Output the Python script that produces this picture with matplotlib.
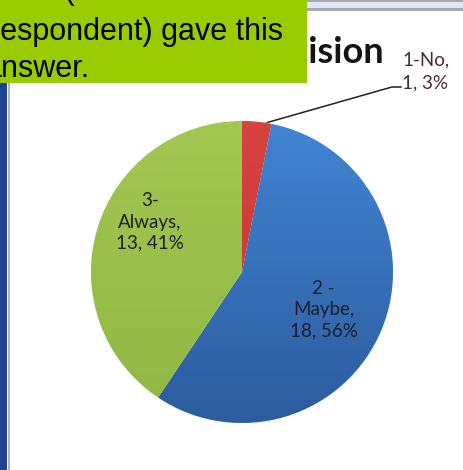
import numpy as np
import matplotlib.pyplot as plt
import matplotlib.colors as mcolors

# survey answers
answers = ['1-No', '2 -\nMaybe', '3-\nAlways']
counts = [1, 18, 13]
colors_top = ['#d8433f', '#4185d3', '#a2c851']
colors_bottom = ['#c23634', '#2d5c9f', '#90b644']
callout_lines = ['once (or one', 'respondent) gave this', 'answer.']
title = 'Decision'

W, H = 464, 470
cx, cy, r = 242, 272, 151

# label anchors in pie units (x, y), one per answer
label_pos = [(1.06, 1.33), (0.54, -0.25), (-0.61, 0.33)]
# callout text placement in pixels (left, baseline)
callout_xy = [(-10, -1), (-10, 40), (-15, 77)]


def make_gradient(c_top, c_bot, n=256):
    a = np.array(mcolors.to_rgb(c_top))
    b = np.array(mcolors.to_rgb(c_bot))
    t = np.linspace(0, 1, n)[:, None]
    col = a * (1 - t) + b * t
    return np.repeat(col[:, None, :], 2, axis=1)


fig = plt.figure(figsize=(W / 100, H / 100), dpi=100)
fig.patch.set_facecolor('white')

# page frame in pixel coordinates
bg = fig.add_axes([0, 0, 1, 1])
bg.set_xlim(0, W)
bg.set_ylim(H, 0)
bg.axis('off')
bg.add_patch(plt.Rectangle((0, 83), 7.5, H - 83, color='#22418f', lw=0))
bg.add_patch(plt.Rectangle((8, 83), 2, H - 83, color='#b4b4b4', lw=0))
bg.add_patch(plt.Rectangle((300, 0), W - 300, 2, color='#a8a8a8', lw=0))
bg.add_patch(plt.Rectangle((300, 2), W - 300, 6, color='#dde5f8', lw=0))
bg.add_patch(plt.Rectangle((300, 8), W - 300, 3, color='#a8a8a8', lw=0))
bg.text(384, 63, title, ha='right', va='baseline', fontsize=26,
        fontweight='bold', family='Lato', color='#141414')

# pie
ax = fig.add_axes([(cx - r) / W, (H - cy - r) / H, 2 * r / W, 2 * r / H])
wedges, _ = ax.pie(counts, colors=colors_top, startangle=90,
                   counterclock=False, radius=1,
                   wedgeprops=dict(linewidth=0.6, edgecolor='white'))
ax.set_xlim(-1, 1)
ax.set_ylim(-1, 1)
ax.set_aspect('auto')
ax.axis('off')

for w, ct, cb in zip(wedges, colors_top, colors_bottom):
    im = ax.imshow(make_gradient(ct, cb), extent=(-1, 1, -1, 1),
                   aspect='auto', zorder=w.get_zorder() + 0.1,
                   interpolation='bilinear')
    im.set_clip_path(w)

total = sum(counts)
for i, (name, n) in enumerate(zip(answers, counts)):
    pct = round(100 * n / total)
    x, y = label_pos[i]
    if i == 0:
        ax.text(x, y, f'{name},\n{n}, {pct}%', ha='left', va='center',
                fontsize=13.5, family='Lato', color='#4a2a38',
                linespacing=1.4, clip_on=False, zorder=5)
    else:
        ax.text(x, y, f'{name},\n{n}, {pct}%', ha='center', va='center',
                fontsize=13.5, family='Lato', color='#1a1f28',
                linespacing=1.3, zorder=5)

# leader line for the small slice
bg.plot([255, 392, 401], [126, 87, 87], color='#222222', lw=1.1, zorder=6)

# green callout box over the top-left
bg.add_patch(plt.Rectangle((0, 0), 307, 83, color='#99cc00', lw=0, zorder=10))
for line, (tx, ty) in zip(callout_lines, callout_xy):
    bg.text(tx, ty, line, ha='left', va='baseline', fontsize=22,
            family='Liberation Sans', color='black', zorder=11)

fig.savefig('out.png', dpi=100)
